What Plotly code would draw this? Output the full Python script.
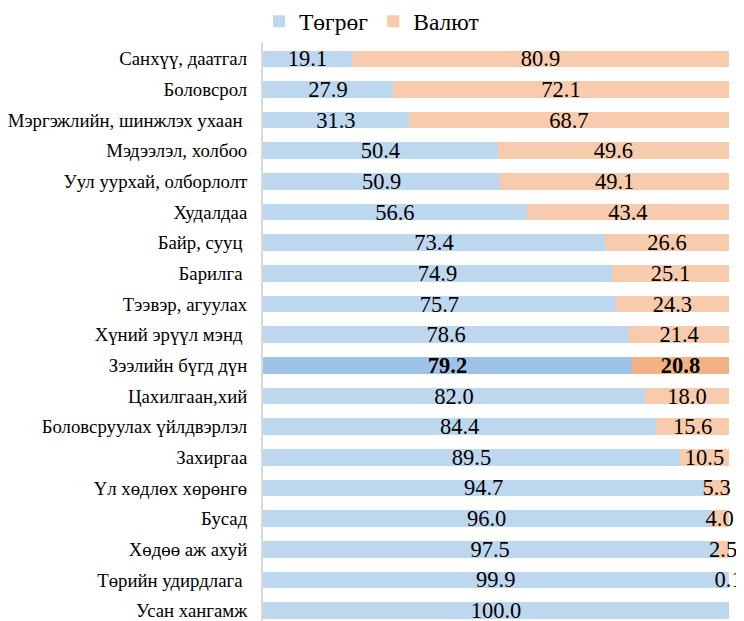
import plotly.graph_objects as go

categories = [
    "Санхүү, даатгал", "Боловсрол", "Мэргэжлийн, шинжлэх ухаан\u00a0",
    "Мэдээлэл, холбоо", "Уул уурхай, олборлолт", "Худалдаа", "Байр, сууц\u00a0",
    "Барилга\u00a0", "Тээвэр, агуулах", "Хүний эрүүл мэнд\u00a0", "Зээлийн бүгд дүн",
    "Цахилгаан,хий", "Боловсруулах үйлдвэрлэл", "Захиргаа", "Үл хөдлөх хөрөнгө",
    "Бусад", "Хөдөө аж ахуй", "Төрийн удирдлага\u00a0", "Усан хангамж",
]
togrog = [19.1, 27.9, 31.3, 50.4, 50.9, 56.6, 73.4, 74.9, 75.7, 78.6, 79.2,
          82.0, 84.4, 89.5, 94.7, 96.0, 97.5, 99.9, 100.0]
valyut = [80.9, 72.1, 68.7, 49.6, 49.1, 43.4, 26.6, 25.1, 24.3, 21.4, 20.8,
          18.0, 15.6, 10.5, 5.3, 4.0, 2.5, 0.1, 0.0]
series_names = ["Төгрөг", "Валют"]
highlight = "Зээлийн бүгд дүн"

BLUE, BLUE_H = "#BDD7EE", "#9DC3E6"
ORANGE, ORANGE_H = "#F8CBAD", "#F4B183"
FONT = "Liberation Serif"


def labels(vals):
    out = []
    for c, v in zip(categories, vals):
        if v == 0:
            out.append("")
        elif c == highlight:
            out.append(f"<b>{v:.1f}</b>")
        else:
            out.append(f"{v:.1f}")
    return out


fig = go.Figure()
for name, vals, col, colh in [(series_names[0], togrog, BLUE, BLUE_H),
                              (series_names[1], valyut, ORANGE, ORANGE_H)]:
    fig.add_trace(go.Bar(
        y=categories, x=vals, name=name, orientation="h",
        marker=dict(color=[colh if c == highlight else col for c in categories],
                    line=dict(width=0)),
        text=labels(vals), textposition="inside", insidetextanchor="middle",
        textangle=0, cliponaxis=False, constraintext="none",
        textfont=dict(family=FONT, size=22.5, color="black"),
        hoverinfo="skip",
    ))

# page body has an 8px margin, so the figure is drawn 8px right and down
fig.update_layout(
    barmode="stack", bargap=0.46,
    width=736, height=613,
    margin=dict(l=255, r=15, t=29, b=0),
    paper_bgcolor="white", plot_bgcolor="white",
    font=dict(family=FONT, color="black"),
    showlegend=True,
    legend=dict(orientation="h", xref="container", yref="container",
                x=0.341, xanchor="left", y=0.978, yanchor="middle",
                font=dict(family=FONT, size=23.5, color="black"),
                itemclick=False, itemdoubleclick=False, traceorder="normal"),
    xaxis=dict(range=[0, 100], showticklabels=False, showgrid=False,
               zeroline=False, showline=False, fixedrange=True),
    yaxis=dict(categoryorder="array", categoryarray=categories,
               range=[18.34, -0.5], showline=True, linecolor="#D9D9D9",
               linewidth=2, ticks="", showgrid=False, zeroline=False,
               tickfont=dict(family=FONT, size=18.8, color="black"),
               ticklabelstandoff=10, fixedrange=True),
)

fig.write_html("out.html")
